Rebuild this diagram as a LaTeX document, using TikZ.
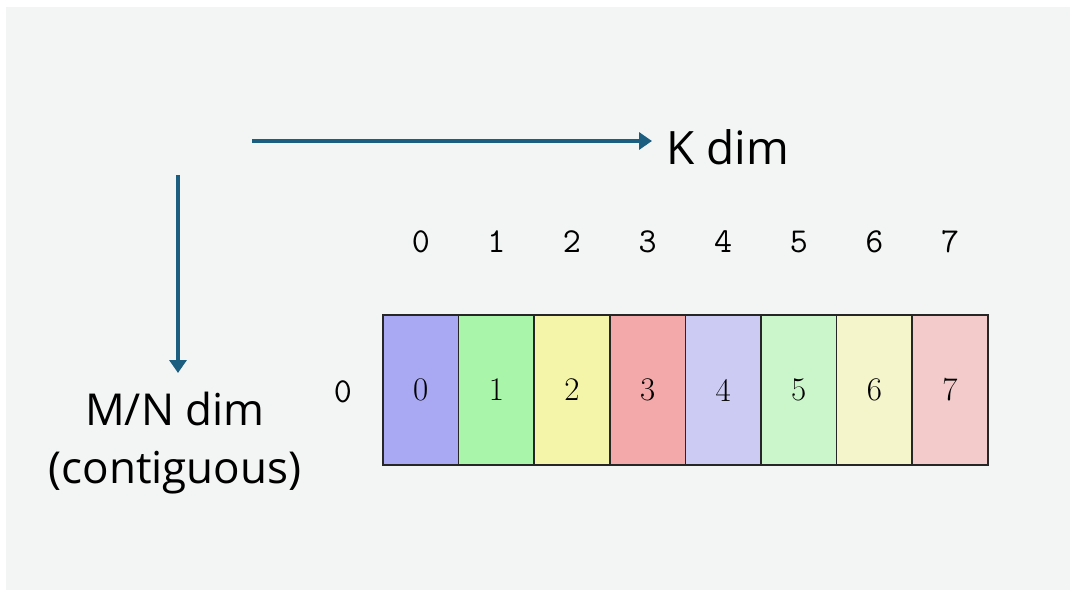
\documentclass[tikz,border=0pt]{standalone}
\usepackage{fontspec}
\newfontfamily\labelfont{Open Sans}
\usetikzlibrary{arrows.meta}
\definecolor{bg}{HTML}{F3F5F4}
\definecolor{arrowblue}{HTML}{1B5E80}
\definecolor{ca}{HTML}{A9A9F3}
\definecolor{cb}{HTML}{A9F5A9}
\definecolor{cc}{HTML}{F5F5A9}
\definecolor{cd}{HTML}{F3A9A9}
\definecolor{ce}{HTML}{CBCBF3}
\definecolor{cf}{HTML}{CBF5CB}
\definecolor{cg}{HTML}{F5F5CB}
\definecolor{ch}{HTML}{F3CBCB}
\tikzset{
  arr/.style={draw=arrowblue, line width=3.6pt, -{Triangle[length=13pt,width=17pt]}},
  cell/.style={draw=black!85, line width=1.6pt, minimum width=75.6pt, minimum height=150pt, inner sep=0pt, font=\rmfamily\fontsize{33}{33}\selectfont},
  head/.style={inner sep=0pt, font=\ttfamily\fontsize{35}{35}\selectfont},
  lbl/.style={inner sep=0pt, font=\labelfont\fontsize{44}{58}\selectfont, align=center},
}
\begin{document}
\begin{tikzpicture}[x=1pt,y=-1pt]
\useasboundingbox (0,0) rectangle (1070,590);
\fill[bg] (6,7) rectangle (1070,590);
% arrows
\coordinate (ka) at (252,141);
\coordinate (kb) at (652,141);
\coordinate (ma) at (178,175);
\coordinate (mb) at (178,373);
\draw[arr] (ka) -- (kb);
\draw[arr] (ma) -- (mb);
\node[lbl, anchor=west, font=\labelfont\fontsize{46}{58}\selectfont] (kdim) at (666,147) {K dim};
\node[lbl] (mn) at (175,443) {M/N dim\\(contiguous)};
% row label
\node[head] (r0) at (343,392) {0};
% cells
\foreach \i/\c in {0/ca,1/cb,2/cc,3/cd,4/ce,5/cf,6/cg,7/ch}{
  \node[cell, fill=\c] (c\i) at ({383+75.6*\i+37.8},390) {\i};
  \node[head] (h\i) at ({383+75.6*\i+37.8},242) {\i};
}
\end{tikzpicture}
\end{document}
